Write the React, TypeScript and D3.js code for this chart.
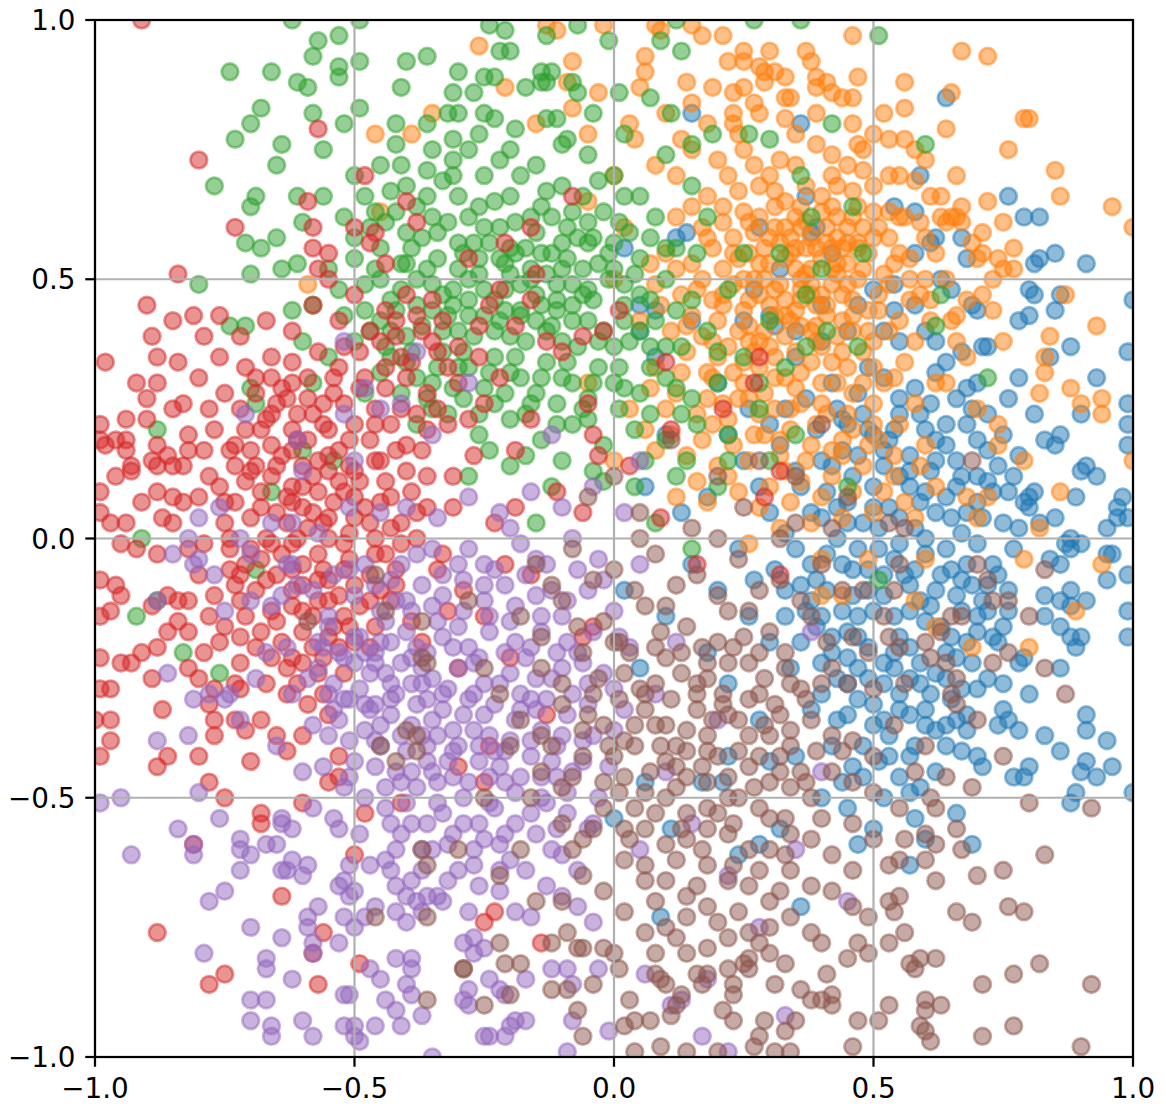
import React from "react";
import { scaleLinear } from "d3";

// points, [x, y]
const blue: [number, number][] = [
  [0.64,0.85],[0.36,0.80],[0.59,0.70],[0.76,0.66],[0.79,0.62],[0.82,0.62],[0.54,0.64],[0.58,0.63],[0.61,0.57],[0.62,0.58],
  [0.67,0.58],[0.68,0.54],[0.81,0.53],[0.82,0.54],[0.85,0.55],[0.91,0.53],[0.80,0.48],[0.81,0.47],[0.86,0.47],[0.85,0.44],
  [1.00,0.46],[0.69,0.45],[0.70,0.44],[0.78,0.42],[0.80,0.43],[0.88,0.37],[0.99,0.36],[0.84,0.35],[0.71,0.37],[0.72,0.37],
  [0.67,0.36],[0.62,0.38],[0.54,0.49],[0.54,0.44],[0.63,0.50],[0.37,0.66],[0.38,0.59],[0.39,0.60],
  [0.78,0.31],[0.93,0.31],[0.99,0.26],[0.90,0.24],[0.81,0.24],[0.83,0.19],[0.85,0.18],[0.86,0.20],[0.99,0.22],[0.99,0.18],
  [0.91,0.14],[0.90,0.13],[0.93,0.12],[0.89,0.08],[0.98,0.08],[0.97,0.06],[0.97,0.04],[0.99,0.04],[0.95,0.02],[0.76,0.09],
  [0.80,0.08],[0.81,0.09],[0.79,0.07],[0.80,0.06],[0.82,0.03],[0.85,0.04],[0.78,0.02],[0.88,0.00],[0.87,-0.01],[0.84,-0.04],
  [0.86,-0.05],[0.88,-0.02],[0.90,-0.01],[0.95,-0.03],[0.96,-0.03],[0.95,-0.08],[0.99,-0.07],[0.99,-0.14],[0.99,-0.19],[0.83,-0.11],
  [0.86,-0.12],[0.88,-0.10],[0.91,-0.12],[0.88,-0.13],[0.83,-0.15],[0.86,-0.17],[0.88,-0.19],[0.90,-0.19],[0.89,-0.21],[0.86,-0.25],
  [0.75,-0.17],[0.73,-0.19],[0.74,-0.20],[0.78,-0.24],[0.79,-0.23],[0.72,-0.27],[0.75,-0.28],[0.80,-0.30],[0.70,-0.29],[0.75,-0.33],
  [0.91,-0.34],[0.91,-0.37],[0.95,-0.39],[0.83,-0.38],[0.86,-0.41],[0.91,-0.43],[0.90,-0.45],[0.93,-0.46],[0.96,-0.44],[0.89,-0.49],
  [0.88,-0.51],[1.00,-0.49],[0.77,-0.46],[0.79,-0.46],[0.80,-0.44],[0.74,-0.36],[0.76,-0.35],[0.78,-0.37],[0.64,-0.36],[0.68,-0.34],
  [0.71,-0.44],[0.70,-0.42],[0.67,-0.41],[0.66,-0.53],[0.69,-0.59],[0.58,-0.54],[0.57,-0.49],[0.60,-0.58],[0.57,-0.63],[0.47,-0.59],
  [0.36,-0.71],
  [0.42,0.30],[0.47,0.28],[0.52,0.31],[0.58,0.29],[0.62,0.32],[0.66,0.27],[0.70,0.30],[0.45,0.22],[0.50,0.20],[0.55,0.24],
  [0.60,0.21],[0.64,0.18],[0.68,0.22],[0.72,0.17],[0.40,0.15],[0.46,0.12],[0.52,0.14],[0.57,0.10],[0.61,0.13],[0.66,0.10],
  [0.70,0.12],[0.74,0.14],[0.38,0.05],[0.43,0.06],[0.48,0.03],[0.53,0.06],[0.58,0.02],[0.62,0.05],[0.67,0.01],[0.71,0.04],
  [0.35,-0.02],[0.41,-0.03],[0.46,-0.06],[0.51,-0.02],[0.56,-0.07],[0.60,-0.03],[0.65,-0.06],[0.69,-0.09],[0.73,-0.05],[0.33,-0.10],
  [0.38,-0.12],[0.44,-0.14],[0.49,-0.10],[0.54,-0.15],[0.59,-0.12],[0.63,-0.17],[0.67,-0.14],[0.71,-0.12],[0.36,-0.20],[0.42,-0.22],
  [0.47,-0.19],[0.52,-0.24],[0.57,-0.21],[0.62,-0.26],[0.66,-0.23],[0.40,-0.30],[0.45,-0.28],[0.50,-0.32],[0.55,-0.30],[0.60,-0.33],
  [0.65,-0.31],[0.48,-0.40],[0.53,-0.38],[0.57,-0.42],[0.62,-0.45],[0.44,-0.47],[0.52,-0.50],[0.30,0.05],[0.27,-0.08],[0.25,0.15],
  [0.30,0.22],[0.35,0.35],[0.45,0.40],[0.55,0.38],[0.50,0.48],[0.58,0.55],[0.30,-0.20],[0.22,-0.28],[0.28,-0.35],[0.35,-0.42],
  [0.15,-0.05],[0.18,0.08],[0.10,-0.15],[0.05,-0.25],[0.02,-0.10],[0.20,0.30],[0.15,0.42],[0.08,0.35],[0.05,0.45],[0.12,0.58],
  [0.25,0.42],[0.75,0.20],[0.77,-0.02],[0.76,-0.10],[0.68,-0.37],[0.40,0.45],[0.32,0.52],[0.28,0.60],[0.42,0.55],
  [0.15,0.82],[0.02,0.56],[0.14,0.59],[0.27,0.48],[0.30,0.43],[0.31,0.41],[0.05,0.40],[0.08,0.44],
  [0.00,-0.54],[0.06,-0.47],[0.17,-0.47],[0.21,-0.47],[0.22,-0.42],[0.30,-0.43],[0.28,-0.59],[0.24,-0.61],[0.32,-0.56],[0.11,-0.56],[0.09,-0.73],
  [0.37,0.27],[0.43,0.25],[0.49,0.33],[0.55,0.27],[0.61,0.26],[0.64,0.34],[0.68,0.29],[0.72,0.24],[0.76,0.27],[0.39,0.21],
  [0.44,0.17],[0.48,0.24],[0.53,0.19],[0.57,0.16],[0.62,0.19],[0.66,0.15],[0.70,0.19],[0.77,0.12],[0.36,0.10],[0.41,0.09],
  [0.45,0.07],[0.50,0.10],[0.55,0.12],[0.59,0.07],[0.64,0.08],[0.68,0.05],[0.73,0.09],[0.75,0.03],[0.33,0.01],[0.38,-0.05],
  [0.43,0.00],[0.47,-0.02],[0.51,0.02],[0.55,-0.01],[0.60,0.00],[0.64,-0.02],[0.70,-0.01],[0.74,-0.07],[0.31,-0.06],[0.36,-0.09],
  [0.41,-0.10],[0.46,-0.11],[0.52,-0.07],[0.57,-0.09],[0.62,-0.10],[0.67,-0.08],[0.72,-0.14],[0.33,-0.15],[0.39,-0.17],[0.45,-0.18],
  [0.50,-0.14],[0.55,-0.19],[0.60,-0.16],[0.65,-0.19],[0.70,-0.18],[0.34,-0.25],[0.40,-0.24],[0.45,-0.23],[0.49,-0.27],[0.54,-0.25],
  [0.59,-0.28],[0.64,-0.27],[0.69,-0.24],[0.38,-0.33],[0.43,-0.35],[0.47,-0.31],[0.52,-0.35],[0.57,-0.34],[0.62,-0.37],[0.66,-0.35],
  [0.46,-0.44],[0.51,-0.43],[0.55,-0.46],[0.59,-0.48],[0.42,-0.40],[0.50,-0.56],[0.45,-0.52],[0.40,-0.50],[0.26,-0.15],[0.24,-0.02],
  [0.28,0.10],[0.32,0.18],[0.26,0.25],[0.22,0.20],[0.20,-0.10],[0.18,-0.22],[0.13,0.05],[0.10,0.20],[0.06,0.10],[0.35,0.40],
  [0.40,0.38],[0.47,0.45],[0.52,0.40],[0.58,0.45],[0.60,0.40],[0.65,0.48],
  [0.44,0.23],[0.49,0.21],[0.54,0.21],[0.59,0.24],[0.64,0.22],[0.69,0.25],[0.42,0.14],[0.47,0.16],[0.52,0.17],[0.57,0.13],
  [0.62,0.15],[0.67,0.12],[0.72,0.11],[0.40,0.04],[0.45,0.03],[0.50,0.06],[0.55,0.04],[0.60,0.09],[0.65,0.04],[0.70,0.07],
  [0.39,-0.08],[0.44,-0.05],[0.49,-0.06],[0.54,-0.04],[0.58,-0.06],[0.63,-0.07],[0.68,-0.05],[0.72,-0.09],[0.40,-0.15],[0.47,-0.15],
  [0.52,-0.11],[0.57,-0.14],[0.61,-0.13],[0.66,-0.11],[0.70,-0.15],[0.42,-0.19],[0.49,-0.21],[0.54,-0.22],[0.59,-0.24],[0.64,-0.22],
  [0.68,-0.20],[0.43,-0.27],[0.47,-0.25],[0.52,-0.28],[0.57,-0.27],[0.61,-0.30],[0.67,-0.29],[0.45,-0.34],[0.50,-0.36],[0.55,-0.33],
  [0.60,-0.36],[0.64,-0.40],[0.53,-0.42],[0.48,-0.46],[0.58,-0.40],[0.37,-0.14],[0.35,0.13],[0.33,0.25],[0.76,-0.14],[0.78,0.16],
];

const orange: [number, number][] = [
  [-0.46,0.78],[-0.39,0.78],[-0.35,0.82],[-0.45,0.63],[-0.59,0.49],
  [-0.26,0.95],[-0.13,0.99],[-0.11,0.98],[-0.08,0.92],[-0.21,0.87],[-0.09,0.88],[-0.08,0.83],[-0.02,0.99],[0.06,0.93],[0.06,0.90],
  [0.05,0.87],[0.08,0.99],[0.09,0.98],[0.15,0.99],[0.17,0.97],[0.21,0.97],[0.14,0.88],[0.19,0.87],[0.15,0.84],[0.22,0.92],
  [0.25,0.94],[0.25,0.92],[0.30,0.94],[0.28,0.91],[0.29,0.90],[0.31,0.90],[0.23,0.86],[0.25,0.87],[0.29,0.88],[0.33,0.89],
  [0.27,0.84],[0.23,0.82],[0.28,0.82],[0.33,0.85],[0.33,0.81],[0.03,0.80],[0.04,0.77],[0.13,0.77],[0.23,0.80],[0.24,0.78],
  [0.46,0.97],[0.67,0.94],[0.72,0.93],[0.56,0.88],[0.47,0.89],[0.65,0.86],[0.52,0.82],[0.56,0.83],[0.64,0.79],[0.79,0.81],
  [0.80,0.81],[0.76,0.75],[0.85,0.71],[0.86,0.66],[0.96,0.64],[1.00,0.60],[0.66,0.70],[0.61,0.66],[0.72,0.65],[0.75,0.61],
  [0.71,0.59],[0.77,0.56],[0.74,0.54],[0.77,0.52],[0.75,0.52],[0.73,0.50],[0.71,0.55],[0.70,0.54],[0.69,0.57],[0.67,0.61],
  [0.66,0.62],[0.64,0.61],[0.63,0.62],[0.87,0.47],[0.93,0.41],[0.84,0.39],[0.83,0.35],[0.71,0.47],[0.73,0.44],[0.75,0.38],
  [0.66,0.43],[0.65,0.42],[0.61,0.46],[0.61,0.42],[0.59,0.47],[0.57,0.46],[0.55,0.55],[0.57,0.54],[0.53,0.77],[0.56,0.77],
  [0.47,0.76],[0.48,0.75],[0.60,0.73],[0.55,0.70],[0.58,0.69],[0.59,0.61],[0.53,0.63],[0.55,0.62],[0.56,0.62],[0.65,0.62],
  [0.67,0.64],[0.42,0.74],[0.45,0.72],[0.48,0.71],[0.38,0.92],[0.37,0.94],[0.39,0.89],[0.39,0.87],[0.41,0.88],[0.42,0.86],
  [0.44,0.85],[0.46,0.85],[0.39,0.82],[0.46,0.80],[0.34,0.85],[0.39,0.76],[0.42,0.70],[0.43,0.68],
  [0.82,0.28],[0.88,0.29],[0.90,0.26],[0.94,0.27],[0.94,0.24],[0.83,0.32],[0.79,0.15],[0.86,0.09],[1.00,0.15],[0.82,0.02],
  [0.79,-0.04],[0.94,-0.05],[0.89,-0.14],[0.80,-0.21],[0.69,-0.21],[0.74,0.22],[0.74,0.18],[0.70,0.25],[0.68,0.08],[0.72,0.08],
  [0.70,0.04],[0.58,-0.12],[0.60,-0.04],[0.62,-0.17],[0.49,-0.04],[0.44,-0.11],[0.40,-0.11],
  [0.30,0.70],[0.35,0.72],[0.40,0.66],[0.33,0.65],[0.28,0.68],[0.22,0.70],[0.18,0.66],[0.25,0.63],[0.31,0.60],[0.37,0.61],
  [0.43,0.62],[0.47,0.64],[0.50,0.58],[0.45,0.57],[0.39,0.56],[0.34,0.55],[0.29,0.56],[0.23,0.58],[0.17,0.60],[0.12,0.62],
  [0.10,0.55],[0.15,0.53],[0.21,0.52],[0.27,0.50],[0.32,0.49],[0.37,0.51],[0.42,0.52],[0.47,0.50],[0.52,0.51],[0.40,0.47],
  [0.35,0.44],[0.30,0.45],[0.25,0.44],[0.19,0.46],[0.13,0.47],[0.08,0.49],[0.05,0.42],[0.11,0.40],[0.17,0.39],[0.22,0.37],
  [0.28,0.38],[0.33,0.39],[0.38,0.40],[0.44,0.42],[0.49,0.44],[0.53,0.40],[0.48,0.36],[0.42,0.34],[0.36,0.32],[0.31,0.31],
  [0.25,0.30],[0.19,0.31],[0.13,0.32],[0.08,0.33],[0.10,0.25],[0.16,0.24],[0.22,0.23],[0.28,0.24],[0.34,0.25],[0.40,0.26],
  [0.46,0.28],[0.52,0.30],[0.56,0.34],[0.58,0.26],[0.50,0.22],[0.44,0.19],[0.38,0.18],[0.32,0.16],[0.26,0.15],[0.20,0.14],
  [0.14,0.16],[0.08,0.17],[0.12,0.08],[0.18,0.07],[0.24,0.09],[0.30,0.10],[0.36,0.11],[0.42,0.12],[0.48,0.14],[0.54,0.16],
  [0.60,0.18],[0.62,0.10],[0.56,0.07],[0.50,0.05],[0.44,0.04],[0.38,0.03],[0.32,0.02],[0.26,-0.01],[0.40,-0.04],[0.34,0.58],
  [0.44,0.47],[0.26,0.55],[0.38,0.52],[0.20,0.42],[0.31,0.35],[0.45,0.60],[0.36,0.46],[0.42,0.56],[0.28,0.62],[0.02,0.60],
  [0.00,0.70],[-0.05,0.78],[0.08,0.72],[0.15,0.75],[0.12,0.70],[0.25,0.75],[0.50,0.68],[0.53,0.70],[0.62,0.55],[0.64,0.50],
  [0.68,0.46],[0.58,0.38],[0.64,0.30],[0.68,0.35],[0.00,0.50],[0.03,0.25],[0.00,0.15],[-0.05,0.30],
  [0.32,0.73],[0.37,0.68],[0.42,0.64],[0.27,0.72],[0.20,0.73],[0.24,0.67],[0.31,0.64],[0.36,0.64],[0.46,0.67],[0.50,0.63],
  [0.53,0.58],[0.48,0.60],[0.43,0.58],[0.38,0.58],[0.33,0.60],[0.27,0.59],[0.21,0.61],[0.15,0.64],[0.19,0.56],[0.24,0.54],
  [0.30,0.53],[0.35,0.52],[0.40,0.54],[0.45,0.53],[0.49,0.55],[0.54,0.53],[0.51,0.47],[0.46,0.46],[0.42,0.49],[0.38,0.47],
  [0.33,0.46],[0.28,0.47],[0.23,0.49],[0.17,0.50],[0.12,0.52],[0.07,0.53],[0.09,0.45],[0.15,0.43],[0.21,0.45],[0.26,0.41],
  [0.31,0.43],[0.36,0.41],[0.41,0.43],[0.46,0.40],[0.50,0.38],[0.55,0.42],[0.57,0.50],[0.60,0.58],[0.14,0.36],[0.20,0.35],
  [0.25,0.34],[0.30,0.37],[0.35,0.36],[0.40,0.37],[0.45,0.33],[0.50,0.33],[0.54,0.31],[0.07,0.29],[0.12,0.28],[0.18,0.27],
  [0.24,0.27],[0.29,0.28],[0.35,0.29],[0.40,0.30],[0.45,0.24],[0.50,0.26],[0.55,0.22],[0.06,0.21],[0.11,0.20],[0.17,0.19],
  [0.23,0.18],[0.29,0.20],[0.34,0.21],[0.39,0.22],[0.44,0.16],[0.49,0.18],[0.54,0.12],[0.59,0.14],[0.16,0.11],[0.22,0.12],
  [0.28,0.06],[0.34,0.07],[0.40,0.08],[0.46,0.09],[0.52,0.09],[0.58,0.04],[0.37,0.56],[0.41,0.60],[0.44,0.56],[0.36,0.50],
  [0.32,0.57],[0.29,0.50],[0.47,0.57],[0.39,0.45],[0.43,0.39],[0.26,0.38],[0.19,0.22],[0.33,0.13],[0.62,0.30],[0.66,0.38],
  [0.60,0.50],[0.63,0.66],[0.58,0.75],[0.50,0.78],[0.35,0.78],[0.18,0.80],[0.10,0.82],[-0.03,0.86],[-0.15,0.80],[-0.05,0.65],
  [0.21,0.64],[0.26,0.61],[0.31,0.67],[0.36,0.60],[0.41,0.57],[0.46,0.62],[0.51,0.60],[0.18,0.58],[0.23,0.55],[0.28,0.53],
  [0.33,0.54],[0.38,0.49],[0.43,0.51],[0.48,0.52],[0.53,0.49],[0.16,0.48],[0.21,0.47],[0.26,0.46],[0.31,0.48],[0.36,0.48],
  [0.41,0.45],[0.46,0.43],[0.51,0.44],[0.14,0.41],[0.19,0.38],[0.24,0.40],[0.29,0.40],[0.34,0.42],[0.39,0.38],[0.44,0.36],
  [0.49,0.40],[0.18,0.32],[0.23,0.32],[0.28,0.33],[0.33,0.31],[0.38,0.34],[0.43,0.30],[0.48,0.30],[0.21,0.26],[0.26,0.27],
  [0.31,0.25],[0.36,0.26],[0.41,0.24],[0.46,0.21],[0.51,0.19],[0.27,0.20],[0.32,0.19],[0.37,0.15],[0.42,0.17],[0.35,0.62],
  [0.40,0.63],[0.30,0.58],[0.25,0.50],[0.45,0.49],[0.35,0.56],[0.43,0.53],[0.33,0.43],[0.39,0.41],[0.27,0.36],[0.47,0.56],
];

const green: [number, number][] = [
  [-0.74,0.90],[-0.66,0.90],[-0.68,0.83],[-0.70,0.80],[-0.73,0.77],[-0.64,0.76],[-0.65,0.72],[-0.77,0.68],[-0.69,0.66],[-0.70,0.64],
  [-0.61,0.66],[-0.60,0.61],[-0.71,0.57],[-0.68,0.56],[-0.65,0.58],[-0.61,0.53],[-0.64,0.52],[-0.70,0.51],[-0.80,0.49],[-0.74,0.41],
  [-0.71,0.41],[-0.62,1.00],[-0.57,0.96],[-0.53,0.97],[-0.58,0.93],[-0.53,0.91],[-0.53,0.89],[-0.61,0.88],[-0.59,0.87],[-0.58,0.82],
  [-0.52,0.80],[-0.56,0.75],[-0.49,0.92],[-0.49,0.83],[-0.40,0.92],[-0.41,0.87],[-0.36,0.93],[-0.42,0.80],[-0.36,0.71],[-0.49,1.00],
  [-0.24,0.99],[-0.21,0.98],[-0.13,0.97],[-0.07,0.99],[-0.01,0.96],[-0.22,0.94],[-0.20,0.94],[-0.30,0.90],[-0.25,0.89],[-0.23,0.89],
  [-0.17,0.87],[-0.14,0.90],[-0.12,0.90],[-0.14,0.88],[-0.13,0.88],[-0.08,0.88],[-0.07,0.86],[-0.31,0.86],[-0.27,0.86],[-0.32,0.82],
  [-0.30,0.82],[-0.25,0.82],[-0.23,0.81],[-0.19,0.79],[-0.13,0.81],[-0.11,0.81],[-0.09,0.77],[-0.31,0.77],[-0.28,0.75],[-0.22,0.73],
  [-0.31,0.73],[-0.31,0.70],[0.01,0.86],[0.07,0.85],[0.11,0.82],[0.13,0.94],[0.09,0.96],[0.12,1.00],[0.27,1.00],[0.19,0.78],
  [0.26,0.78],[0.30,0.77],[0.15,0.76],
  [0.51,0.97],[0.42,0.80],[0.60,0.76],[0.36,0.70],[0.46,0.64],[0.40,0.52],[0.63,0.47],[0.62,0.41],[0.41,0.40],[0.37,0.37],
  [0.47,0.37],[0.36,1.00],[0.72,0.31],[0.51,-0.08],
  [-0.88,0.21],[-0.70,0.29],[-0.69,0.26],[-0.91,0.00],[-0.88,-0.12],[-0.92,-0.15],[-0.83,-0.22],[-0.76,-0.26],[-0.66,0.09],[-0.69,-0.06],
  [-0.60,0.17],[-0.54,0.15],
  [-0.50,0.70],[-0.45,0.72],[-0.40,0.68],[-0.35,0.75],[-0.30,0.66],[-0.25,0.70],[-0.20,0.66],[-0.15,0.72],[-0.10,0.68],[-0.05,0.74],
  [0.00,0.70],[0.05,0.66],[-0.52,0.62],[-0.47,0.60],[-0.42,0.63],[-0.37,0.58],[-0.32,0.61],[-0.27,0.57],[-0.22,0.60],[-0.17,0.56],
  [-0.12,0.62],[-0.07,0.58],[-0.02,0.63],[0.03,0.59],[0.08,0.62],[0.12,0.56],[-0.55,0.52],[-0.50,0.54],[-0.45,0.50],[-0.40,0.53],
  [-0.35,0.49],[-0.30,0.52],[-0.25,0.48],[-0.20,0.51],[-0.15,0.47],[-0.10,0.52],[-0.05,0.48],[0.00,0.52],[0.05,0.47],[0.10,0.50],
  [0.15,0.46],[-0.52,0.43],[-0.47,0.40],[-0.42,0.44],[-0.37,0.41],[-0.32,0.43],[-0.27,0.39],[-0.22,0.42],[-0.17,0.38],[-0.12,0.41],
  [-0.07,0.37],[-0.02,0.40],[0.03,0.38],[0.08,0.42],[0.13,0.37],[0.18,0.40],[-0.45,0.32],[-0.40,0.34],[-0.35,0.30],[-0.30,0.33],
  [-0.25,0.29],[-0.20,0.32],[-0.15,0.28],[-0.10,0.31],[-0.05,0.27],[0.00,0.30],[0.05,0.28],[0.10,0.31],[0.15,0.27],[0.20,0.30],
  [-0.38,0.22],[-0.32,0.24],[-0.26,0.20],[-0.20,0.23],[-0.14,0.19],[-0.08,0.22],[-0.02,0.18],[0.04,0.21],[0.10,0.19],[0.16,0.22],
  [0.22,0.20],[0.28,0.25],[-0.28,0.12],[-0.20,0.14],[-0.12,0.10],[-0.04,0.13],[0.04,0.10],[0.12,0.12],[0.20,0.10],[0.25,0.35],
  [0.30,0.42],[0.22,0.48],[0.25,0.55],[0.18,0.62],[0.15,0.68],[-0.58,0.45],[-0.60,0.38],[-0.55,0.35],[-0.48,0.28],[-0.18,0.44],
  [-0.12,0.55],[-0.28,0.46],[-0.08,0.45],[-0.22,0.54],[-0.14,0.64],[-0.34,0.54],[-0.05,0.57],[0.02,0.45],[-0.42,0.76],[-0.26,0.78],
  [-0.04,0.82],[0.02,0.78],[0.10,0.74],[0.30,0.15],[0.35,0.20],[0.45,0.10],[-0.15,0.03],[0.08,0.03],[0.15,-0.02],[0.32,0.55],
  [0.38,0.62],[0.48,0.55],
  [-0.48,0.66],[-0.43,0.67],[-0.38,0.64],[-0.33,0.69],[-0.28,0.62],[-0.23,0.65],[-0.18,0.70],[-0.13,0.67],[-0.08,0.63],[-0.03,0.69],
  [0.02,0.66],[0.07,0.58],[-0.50,0.58],[-0.45,0.56],[-0.40,0.59],[-0.35,0.62],[-0.30,0.57],[-0.25,0.60],[-0.20,0.56],[-0.15,0.59],
  [-0.10,0.57],[-0.05,0.61],[0.00,0.57],[0.05,0.54],[0.10,0.56],[-0.53,0.48],[-0.48,0.49],[-0.43,0.46],[-0.38,0.50],[-0.33,0.47],
  [-0.28,0.50],[-0.23,0.46],[-0.18,0.49],[-0.13,0.51],[-0.08,0.49],[-0.03,0.53],[0.02,0.49],[0.07,0.46],[0.12,0.44],[-0.50,0.38],
  [-0.45,0.42],[-0.40,0.39],[-0.35,0.44],[-0.30,0.40],[-0.25,0.43],[-0.20,0.39],[-0.15,0.42],[-0.10,0.38],[-0.05,0.42],[0.00,0.37],
  [0.05,0.40],[0.10,0.37],[-0.43,0.35],[-0.38,0.31],[-0.33,0.36],[-0.28,0.33],[-0.23,0.35],[-0.18,0.31],[-0.13,0.34],[-0.08,0.30],
  [-0.03,0.33],[0.02,0.29],[0.07,0.33],[0.12,0.29],[-0.35,0.25],[-0.29,0.27],[-0.23,0.26],[-0.17,0.24],[-0.11,0.26],[-0.05,0.23],
  [0.01,0.25],[0.07,0.24],[0.13,0.24],[-0.24,0.17],[-0.17,0.16],[-0.10,0.15],[-0.02,0.11],[0.06,0.15],[0.14,0.15],[-0.19,0.55],
  [-0.11,0.46],[-0.16,0.52],[-0.06,0.52],[-0.21,0.44],[-0.26,0.54],[-0.09,0.60],[-0.14,0.45],[-0.04,0.46],[-0.46,0.63],[-0.41,0.72],
  [-0.36,0.80],[-0.20,0.75],[-0.10,0.76],[-0.56,0.66],[-0.62,0.44],[-0.58,0.30],[0.16,0.55],[0.20,0.36],[0.28,0.30],[0.22,0.15],
  [0.33,0.33],[0.37,0.47],
  [-0.44,0.61],[-0.39,0.56],[-0.34,0.59],[-0.29,0.55],[-0.24,0.57],[-0.19,0.61],[-0.14,0.55],[-0.09,0.54],[-0.04,0.58],[0.01,0.61],
  [-0.46,0.52],[-0.41,0.48],[-0.36,0.52],[-0.31,0.48],[-0.26,0.51],[-0.21,0.48],[-0.16,0.50],[-0.11,0.49],[-0.06,0.47],[-0.01,0.50],
  [0.04,0.51],[-0.48,0.44],[-0.43,0.40],[-0.38,0.45],[-0.33,0.40],[-0.28,0.43],[-0.23,0.40],[-0.18,0.43],[-0.13,0.40],[-0.08,0.42],
  [-0.03,0.38],[0.02,0.42],[0.07,0.37],[-0.44,0.37],[-0.39,0.36],[-0.34,0.33],[-0.29,0.36],[-0.24,0.32],[-0.19,0.35],[-0.14,0.31],
  [-0.09,0.34],[-0.04,0.30],[0.01,0.33],[-0.41,0.28],[-0.36,0.27],[-0.31,0.29],[-0.26,0.24],[-0.21,0.28],[-0.16,0.26],[-0.11,0.22],
  [-0.06,0.25],[-0.36,0.66],[-0.26,0.64],[-0.16,0.62],[-0.06,0.66],[-0.41,0.53],[-0.21,0.53],[-0.01,0.55],[-0.31,0.45],[-0.11,0.44],
];

const red: [number, number][] = [
  [-0.91,1.00],[-0.57,0.79],[-0.80,0.73],[-0.73,0.60],[-0.84,0.51],[-0.90,0.45],[-0.85,0.42],[-0.89,0.39],[-0.81,0.43],[-0.76,0.43],
  [-0.98,0.34],[-0.88,0.35],[-0.84,0.34],[-0.79,0.39],[-0.48,0.70],[-0.59,0.65],[-0.58,0.60],[-0.58,0.56],[-0.55,0.55],[-0.57,0.52],
  [-0.40,0.65],[-0.38,0.61],[-0.47,0.57],[-0.46,0.59],
  [-0.92,0.30],[-0.88,0.30],[-0.90,0.27],[-0.85,0.25],[-0.94,0.23],[-0.90,0.23],[-0.99,0.22],[-0.99,0.19],[-0.98,0.18],[-0.96,0.19],
  [-0.94,0.19],[-0.94,0.17],[-0.88,0.18],[-0.86,0.16],[-0.89,0.15],[-0.88,0.14],[-0.82,0.20],[-0.82,0.17],[-0.96,0.12],[-0.93,0.13],
  [-0.93,0.14],[-0.85,0.14],[-0.83,0.14],[-0.88,0.09],[-0.85,0.08],[-0.83,0.07],[-0.91,0.07],[-0.99,0.09],[-0.99,0.05],[-0.97,0.03],
  [-0.94,0.03],[-0.87,0.04],[-0.85,0.03],[-0.95,-0.01],[-0.92,-0.02],[-0.88,-0.03],[-0.99,-0.08],[-0.96,-0.09],[-0.95,-0.11],[-0.97,-0.14],
  [-0.99,-0.15],[-0.89,-0.13],[-0.86,-0.11],[-0.84,-0.12],[-0.82,-0.12],[-0.86,-0.18],[-0.82,-0.18],[-0.84,-0.16],[-0.91,-0.22],[-0.88,-0.21],
  [-0.79,-0.22],[-0.95,-0.24],[-0.93,-0.24],[-0.89,-0.27],[-0.99,-0.23],[-0.99,-0.29],[-0.97,-0.29],[-0.87,-0.33],[-0.80,-0.27],[-0.77,-0.29],
  [-0.73,-0.28],[-0.72,-0.29],[-0.78,-0.32],
  [-0.78,0.25],[-0.77,0.21],[-0.74,0.17],[-0.73,0.14],[-0.78,0.12],[-0.76,0.10],[-0.73,0.07],[-0.75,0.03],[-0.79,-0.01],[-0.82,-0.02],
  [-0.74,-0.02],[-0.70,-0.02],[-0.74,-0.06],[-0.71,-0.05],[-0.73,-0.09],[-0.72,-0.12],[-0.78,-0.15],[-0.75,-0.17],[-0.72,-0.19],[-0.69,-0.21],
  [-0.66,-0.23],[-0.72,-0.24],
  [-0.69,0.28],[-0.66,0.31],[-0.62,0.30],[-0.59,0.31],[-0.65,0.26],[-0.61,0.24],[-0.56,0.26],[-0.52,0.26],[-0.68,0.21],[-0.62,0.21],
  [-0.59,0.19],[-0.55,0.21],[-0.69,0.14],[-0.64,0.16],[-0.60,0.14],[-0.55,0.13],[-0.51,0.14],[-0.68,0.09],[-0.62,0.10],[-0.57,0.09],
  [-0.52,0.09],[-0.65,0.05],[-0.60,0.06],[-0.55,0.04],[-0.50,0.04],[-0.62,-0.01],[-0.57,-0.03],[-0.52,-0.01],[-0.65,-0.07],[-0.60,-0.09],
  [-0.55,-0.08],[-0.50,-0.09],[-0.62,-0.13],[-0.57,-0.12],[-0.52,-0.15],[-0.60,-0.18],[-0.55,-0.19],[-0.62,-0.23],[-0.57,-0.26],[-0.46,0.25],
  [-0.43,0.22],[-0.38,0.24],[-0.46,0.15],[-0.40,0.13],[-0.37,0.17],[-0.45,0.07],[-0.41,0.03],[-0.36,0.06],[-0.46,-0.03],[-0.42,-0.06],
  [-0.43,-0.12],[-0.39,-0.16],
  [-0.08,0.66],[-0.16,0.60],[-0.21,0.57],[-0.28,0.54],[-0.15,0.51],[-0.22,0.48],[-0.24,0.45],[-0.16,0.46],[-0.26,0.41],[-0.19,0.41],
  [0.01,0.44],[-0.06,0.39],[-0.13,0.38],[-0.10,0.36],[-0.02,0.40],[0.28,0.35],[0.10,0.34],[-0.35,0.38],[-0.42,0.42],[-0.30,0.30],
  [-0.25,0.26],[-0.16,0.23],[-0.05,0.26],[-0.04,0.20],[-0.27,0.16],[-0.19,0.17],[-0.11,0.09],[-0.03,0.16],[-0.32,0.22],[-0.31,0.12],
  [-0.23,0.03],[-0.19,0.06],[-0.06,0.05],[0.11,0.21],[0.21,0.25],[0.27,0.30],[0.03,0.14],[0.09,0.04],[0.29,0.08],[0.32,0.13],
  [-0.32,-0.14],[-0.21,-0.05],[-0.16,-0.07],[-0.33,-0.03],[-0.25,-0.15],[-0.20,-0.23],[-0.06,-0.19],[-0.04,-0.17],[0.16,-0.05],[0.32,-0.07],
  [-0.13,-0.34],
  [-0.97,-0.39],[-0.99,-0.42],[-0.86,-0.42],[-0.88,-0.44],[-0.80,-0.42],[-0.78,-0.47],[-0.75,-0.50],[-0.68,-0.53],[-0.68,-0.55],[-0.81,-0.59],
  [-0.60,-0.51],[-0.64,-0.69],[-0.88,-0.76],[-0.56,-0.76],[-0.58,-0.80],[-0.75,-0.84],[-0.78,-0.86],[-0.57,-0.86],[-0.50,-0.61],[-0.49,-0.82],
  [-0.53,-0.42],[-0.53,-0.46],[-0.55,-0.47],[-0.41,-0.51],[-0.48,-0.53],[-0.70,-0.43],[-0.77,-0.38],[-0.77,-0.35],[-0.73,-0.35],[-0.71,-0.37],
  [-0.68,-0.35],[-0.65,-0.38],[-0.63,-0.41],[-0.60,-0.38],[-1.00,-0.35],[-0.97,-0.35],
  [-0.14,-0.78],[-0.23,-0.72],[-0.25,-0.74],[-0.24,-0.40],[-0.30,-0.44],[-0.25,-0.47],
  [-0.71,0.33],[-0.66,0.35],[-0.62,0.34],[-0.57,0.36],[-0.53,0.33],[-0.49,0.36],[-0.45,0.38],[-0.41,0.35],[-0.37,0.40],[-0.33,0.42],
  [-0.30,0.37],[-0.44,0.44],[-0.40,0.47],[-0.35,0.46],[-0.48,0.31],[-0.44,0.29],[-0.40,0.31],[-0.36,0.28],[-0.32,0.33],[-0.72,0.25],
  [-0.67,0.23],[-0.63,0.27],[-0.58,0.24],[-0.54,0.28],[-0.50,0.22],[-0.47,0.19],[-0.42,0.17],[-0.34,0.25],[-0.73,0.18],[-0.70,0.17],
  [-0.66,0.18],[-0.62,0.17],[-0.57,0.15],[-0.53,0.17],[-0.49,0.11],[-0.44,0.11],[-0.39,0.09],[-0.71,0.11],[-0.66,0.12],[-0.62,0.07],
  [-0.58,0.12],[-0.54,0.07],[-0.50,0.08],[-0.47,0.03],[-0.43,0.02],[-0.38,0.00],[-0.70,0.04],[-0.67,0.00],[-0.63,0.03],[-0.59,0.02],
  [-0.55,0.00],[-0.51,-0.04],[-0.47,-0.07],[-0.44,-0.03],[-0.68,-0.04],[-0.64,-0.03],[-0.60,-0.05],[-0.56,-0.06],[-0.53,-0.11],[-0.49,-0.13],
  [-0.45,-0.10],[-0.69,-0.10],[-0.66,-0.14],[-0.62,-0.10],[-0.58,-0.15],[-0.54,-0.17],[-0.50,-0.20],[-0.46,-0.17],[-0.68,-0.18],[-0.64,-0.20],
  [-0.60,-0.24],[-0.56,-0.23],[-0.52,-0.26],[-0.67,-0.28],[-0.63,-0.30],[-0.59,-0.32],[-0.55,-0.34],[-0.83,0.26],[-0.80,0.31],[-0.76,0.35],
  [-0.72,0.39],[-0.67,0.42],[-0.62,0.40],[-0.58,0.45],[-0.53,0.42],[-0.50,0.47],[-0.55,0.50],[-0.50,0.60],[-0.44,0.53],[-0.79,0.17],
  [-0.80,0.08],[-0.80,-0.07],[-0.77,-0.11],[-0.76,-0.20],[-0.82,-0.25],[-0.74,0.00],[-0.28,0.23],[-0.22,0.31],[-0.26,0.35],[-0.36,0.12],
  [-0.31,0.06],[-0.34,-0.06],[-0.29,-0.10],[-0.37,-0.20],[-0.30,-0.25],
  [-0.69,0.31],[-0.64,0.29],[-0.59,0.27],[-0.54,0.31],[-0.49,0.29],[-0.44,0.33],[-0.39,0.34],[-0.34,0.36],[-0.71,0.21],[-0.66,0.24],
  [-0.61,0.19],[-0.56,0.22],[-0.51,0.19],[-0.46,0.22],[-0.41,0.25],[-0.36,0.21],[-0.70,0.13],[-0.65,0.14],[-0.60,0.10],[-0.55,0.16],
  [-0.50,0.13],[-0.45,0.15],[-0.40,0.18],[-0.68,0.06],[-0.63,0.08],[-0.58,0.05],[-0.53,0.11],[-0.48,0.06],[-0.43,0.08],[-0.38,0.05],
  [-0.66,-0.01],[-0.61,0.00],[-0.56,0.03],[-0.51,0.01],[-0.46,0.00],[-0.41,-0.01],[-0.67,-0.08],[-0.62,-0.06],[-0.57,-0.08],[-0.52,-0.06],
  [-0.47,-0.12],[-0.42,-0.09],[-0.65,-0.16],[-0.60,-0.14],[-0.55,-0.12],[-0.51,-0.17],[-0.47,-0.21],[-0.63,-0.25],[-0.58,-0.21],[-0.53,-0.21],
  [-0.61,-0.28],[-0.56,-0.30],[-0.42,0.39],[-0.38,0.43],[-0.47,0.40],[-0.52,0.37],[-0.75,0.28],[-0.75,0.07],[-0.72,-0.07],[-0.71,-0.15],
];

const purple: [number, number][] = [
  [-0.88,-0.39],[-0.95,-0.50],[-0.99,-0.51],[-0.93,-0.61],[-0.84,-0.56],[-0.80,-0.49],[-0.76,-0.54],[-0.81,-0.59],[-0.81,-0.61],[-0.72,-0.64],
  [-0.78,-0.70],[-0.75,-0.68],[-0.79,-0.80],[-0.70,-0.75],[-0.64,-0.77],[-0.67,-0.81],[-0.67,-0.83],[-0.62,-0.85],[-0.70,-0.89],[-0.67,-0.89],
  [-0.70,-0.93],[-0.66,-0.94],[-0.66,-0.96],[-0.60,-0.93],[-0.58,-0.96],[-0.59,-0.73],[-0.59,-0.75],[-0.57,-0.71],[-0.58,-0.78],[-0.58,-0.80],
  [-0.53,-0.78],[-0.52,-0.88],[-0.51,-0.88],[-0.52,-0.94],[-0.50,-0.94],[-0.50,-0.96],[-0.49,-0.97],[-0.46,-0.94],[-0.44,-0.89],[-0.41,-0.94],
  [-0.42,-0.91],[-0.37,-0.92],[-0.47,-0.83],[-0.45,-0.85],[-0.42,-0.81],[-0.39,-0.81],[-0.39,-0.83],[-0.40,-0.86],[-0.39,-0.88],[-0.35,-1.00],
  [-0.64,-0.64],[-0.63,-0.64],[-0.62,-0.62],[-0.59,-0.63],[-0.60,-0.65],[-0.72,-0.60],[-0.70,-0.61],[-0.72,-0.58],[-0.67,-0.59],[-0.65,-0.59],
  [-0.64,-0.55],[-0.64,-0.54],[-0.62,-0.56],[-0.51,-0.63],[-0.52,-0.66],[-0.53,-0.67],[-0.51,-0.69],[-0.50,-0.68],[-0.50,-0.75],[-0.52,-0.73],
  [-0.48,-0.73],[-0.46,-0.71],[-0.44,-0.62],[-0.43,-0.64],[-0.42,-0.67],[-0.40,-0.69],[-0.39,-0.66],[-0.38,-0.70],[-0.36,-0.69],[-0.42,-0.72],
  [-0.40,-0.74],[-0.37,-0.72],[-0.34,-0.69],
  [-0.19,-0.93],[-0.17,-0.93],[-0.20,-0.94],[-0.21,-0.96],[-0.24,-0.96],[-0.25,-0.96],[-0.08,-0.93],[-0.01,-0.95],[-0.09,-0.99],[0.17,-0.96],
  [0.22,-0.99],[0.33,-0.92],[0.11,-0.90],[0.13,-0.89],[0.06,-0.84],[0.18,-0.85],[-0.28,-0.87],[-0.29,-0.89],[-0.28,-0.90],[-0.22,-0.87],
  [-0.21,-0.88],[-0.24,-0.85],[-0.17,-0.85],[-0.12,-0.83],[-0.09,-0.83],[-0.08,-0.86],[-0.03,-0.83],[-0.27,-0.80],[-0.25,-0.79],[-0.29,-0.78],
  [-0.27,-0.77],
  [-0.71,0.24],[-0.61,0.19],[-0.60,0.13],[-0.76,0.06],[-0.80,0.04],[-0.82,0.00],[-0.81,-0.05],[-0.80,-0.04],[-0.77,-0.07],[-0.75,-0.14],
  [-0.86,-0.26],[-0.81,-0.31],[-0.75,-0.31],[-0.74,-0.30],[-0.69,-0.27],[-0.63,-0.21],[-0.66,-0.13],[-0.64,-0.11],[-0.63,-0.05],[-0.61,-0.09],
  [-0.70,-0.03],[-0.66,0.03],[-0.62,0.03],[-0.57,0.01],[-0.52,0.24],[-0.48,0.29],[-0.41,0.26],[-0.51,0.06],[-0.45,0.05],[-0.51,-0.06],
  [-0.41,-0.05],[-0.40,-0.12],[-0.55,-0.17],[-0.56,-0.21],[-0.52,-0.23],[-0.49,-0.19],[-0.45,-0.20],[-0.46,-0.24],[-0.43,-0.28],[-0.39,-0.23],
  [-0.37,-0.28],[-0.55,-0.30],[-0.51,-0.31],[-0.46,-0.32],
  [-0.65,-0.40],[-0.60,-0.45],[-0.55,-0.38],[-0.50,-0.43],[-0.45,-0.36],[-0.40,-0.41],[-0.35,-0.35],[-0.30,-0.40],[-0.25,-0.34],[-0.20,-0.39],
  [-0.15,-0.33],[-0.10,-0.38],[-0.05,-0.32],[0.00,-0.37],[-0.62,-0.30],[-0.57,-0.25],[-0.52,-0.31],[-0.47,-0.26],[-0.42,-0.30],[-0.37,-0.25],
  [-0.32,-0.29],[-0.27,-0.24],[-0.22,-0.28],[-0.17,-0.23],[-0.12,-0.27],[-0.07,-0.22],[-0.02,-0.26],[0.03,-0.21],[-0.55,-0.15],[-0.50,-0.19],
  [-0.45,-0.14],[-0.40,-0.18],[-0.35,-0.13],[-0.30,-0.17],[-0.25,-0.12],[-0.20,-0.16],[-0.15,-0.11],[-0.10,-0.15],[-0.05,-0.10],[0.00,-0.14],
  [-0.48,-0.05],[-0.43,-0.08],[-0.38,-0.03],[-0.33,-0.07],[-0.28,-0.02],[-0.23,-0.06],[-0.18,-0.01],[-0.13,-0.05],[-0.08,0.00],[-0.03,-0.04],
  [-0.40,0.06],[-0.34,0.04],[-0.28,0.08],[-0.22,0.05],[-0.16,0.09],[-0.10,0.06],[-0.04,0.10],[-0.58,-0.52],[-0.53,-0.56],[-0.48,-0.50],
  [-0.43,-0.55],[-0.38,-0.48],[-0.33,-0.53],[-0.28,-0.47],[-0.23,-0.52],[-0.18,-0.46],[-0.13,-0.51],[-0.08,-0.45],[-0.03,-0.50],[-0.35,-0.60],
  [-0.30,-0.64],[-0.25,-0.58],[-0.20,-0.62],[-0.15,-0.57],[-0.10,-0.61],[-0.05,-0.56],[-0.28,-0.72],[-0.22,-0.68],[-0.16,-0.73],[-0.10,-0.69],
  [-0.04,-0.74],[-0.32,-0.43],[-0.27,-0.37],[-0.37,-0.38],[-0.22,-0.44],[-0.42,-0.45],[-0.33,-0.30],[-0.18,-0.30],[-0.47,-0.33],[-0.12,-0.43],
  [-0.67,-0.22],[-0.70,-0.12],[-0.62,-0.05],[-0.72,0.00],[-0.85,-0.03],[-0.88,-0.12],[-0.78,-0.30],[-0.72,-0.35],[-0.82,-0.38],[-0.50,0.15],
  [-0.45,0.25],[-0.35,0.20],[-0.28,0.30],[-0.52,0.38],[-0.38,0.36],[0.05,-0.05],[0.08,-0.30],[0.10,-0.45],[0.05,-0.60],[0.15,-0.55],
  [0.12,-0.20],[0.20,-0.35],[0.02,0.05],[0.05,0.15],[-0.12,0.20],[0.22,-0.65],[0.28,-0.75],[0.35,-0.60],[0.40,-0.45],[0.45,-0.70],
  [0.38,-0.18],
  [-0.58,-0.10],[-0.54,-0.07],[-0.50,-0.11],[-0.46,-0.09],[-0.42,-0.12],[-0.37,-0.09],[-0.33,-0.11],[-0.29,-0.08],[-0.25,-0.05],[-0.21,-0.09],
  [-0.17,-0.07],[-0.12,-0.10],[-0.07,-0.06],[-0.02,-0.08],[-0.57,-0.20],[-0.53,-0.22],[-0.48,-0.22],[-0.43,-0.20],[-0.38,-0.21],[-0.33,-0.19],
  [-0.28,-0.21],[-0.24,-0.18],[-0.19,-0.20],[-0.14,-0.18],[-0.09,-0.20],[-0.04,-0.18],[0.01,-0.19],[-0.59,-0.27],[-0.54,-0.28],[-0.49,-0.29],
  [-0.44,-0.26],[-0.39,-0.28],[-0.35,-0.27],[-0.30,-0.25],[-0.25,-0.28],[-0.20,-0.26],[-0.15,-0.27],[-0.10,-0.25],[-0.05,-0.28],[0.00,-0.29],
  [-0.58,-0.36],[-0.53,-0.35],[-0.48,-0.37],[-0.43,-0.34],[-0.39,-0.36],[-0.34,-0.38],[-0.29,-0.34],[-0.24,-0.38],[-0.19,-0.35],[-0.14,-0.37],
  [-0.09,-0.34],[-0.04,-0.38],[0.02,-0.33],[-0.56,-0.44],[-0.51,-0.46],[-0.46,-0.44],[-0.41,-0.47],[-0.36,-0.43],[-0.31,-0.46],[-0.26,-0.43],
  [-0.21,-0.47],[-0.16,-0.42],[-0.11,-0.46],[-0.06,-0.43],[-0.01,-0.44],[-0.54,-0.54],[-0.49,-0.57],[-0.44,-0.52],[-0.39,-0.55],[-0.34,-0.51],
  [-0.29,-0.55],[-0.24,-0.51],[-0.19,-0.55],[-0.14,-0.50],[-0.09,-0.53],[-0.04,-0.55],[-0.47,-0.63],[-0.42,-0.60],[-0.37,-0.64],[-0.32,-0.59],
  [-0.27,-0.63],[-0.22,-0.59],[-0.17,-0.64],[-0.12,-0.60],[-0.07,-0.64],[-0.33,-0.70],[-0.26,-0.67],[-0.19,-0.72],[-0.13,-0.67],[-0.07,-0.71],
  [-0.30,-0.05],[-0.20,0.02],[-0.35,-0.45],[-0.27,-0.30],[-0.31,-0.37],[-0.36,-0.31],[-0.23,-0.41],[-0.40,-0.51],[-0.16,-0.31],[-0.45,-0.40],
  [-0.51,-0.39],
  [-0.44,-0.16],[-0.39,-0.14],[-0.34,-0.16],[-0.29,-0.14],[-0.24,-0.15],[-0.19,-0.13],[-0.14,-0.15],[-0.09,-0.12],[-0.46,-0.22],[-0.41,-0.24],
  [-0.36,-0.22],[-0.31,-0.21],[-0.26,-0.23],[-0.21,-0.22],[-0.16,-0.21],[-0.11,-0.22],[-0.06,-0.24],[-0.48,-0.32],[-0.43,-0.31],[-0.38,-0.32],
  [-0.33,-0.33],[-0.28,-0.31],[-0.23,-0.32],[-0.18,-0.33],[-0.13,-0.31],[-0.08,-0.30],[-0.46,-0.39],[-0.41,-0.38],[-0.36,-0.40],[-0.31,-0.41],
  [-0.26,-0.40],[-0.21,-0.41],[-0.16,-0.39],[-0.11,-0.40],[-0.06,-0.39],[-0.44,-0.48],[-0.39,-0.45],[-0.34,-0.47],[-0.29,-0.50],[-0.24,-0.46],
  [-0.19,-0.49],[-0.14,-0.46],[-0.09,-0.49],[-0.41,-0.57],[-0.36,-0.55],[-0.31,-0.57],[-0.26,-0.55],[-0.21,-0.57],[-0.16,-0.53],[-0.11,-0.56],
  [-0.37,-0.60],[-0.27,-0.60],[-0.32,-0.66],[-0.22,-0.64],[-0.52,-0.48],[-0.50,-0.24],[-0.54,-0.33],[-0.35,-0.02],[-0.25,-0.09],[-0.15,-0.04],
];

const brown: [number, number][] = [
  [0.80,-0.51],[0.92,-0.52],[0.69,-0.48],[0.64,-0.46],[0.83,-0.61],[0.75,-0.64],[0.76,-0.71],[0.79,-0.72],[0.66,-0.72],[0.69,-0.74],
  [0.56,-0.76],[0.53,-0.78],[0.62,-0.81],[0.57,-0.82],[0.59,-0.81],[0.58,-0.83],[0.71,-0.86],[0.77,-0.84],[0.82,-0.82],[0.92,-0.86],
  [0.60,-0.89],[0.60,-0.91],[0.63,-0.90],[0.53,-0.90],[0.51,-0.93],[0.47,-0.93],[0.59,-0.94],[0.60,-0.95],[0.61,-0.97],[0.71,-0.96],
  [0.77,-0.94],[0.90,-0.98],[0.46,-0.98],[0.67,-0.60],[0.61,-0.50],[0.62,-0.52],[0.60,-0.57],[0.62,-0.59],[0.60,-0.62],[0.56,-0.58],
  [0.55,-0.62],[0.53,-0.63],[0.53,-0.70],[0.55,-0.69],[0.54,-0.72],[0.46,-0.71],[0.49,-0.73],[0.47,-0.78],[0.49,-0.80],[0.45,-0.81],
  [0.41,-0.84],[0.42,-0.88],[0.40,-0.89],[0.42,-0.90],[0.38,-0.89],[0.36,-0.87],[0.35,-0.93],[0.34,-0.99],
  [0.83,-0.06],[0.80,-0.15],[0.83,-0.25],[0.87,-0.30],[0.76,-0.12],[0.73,-0.12],[0.72,-0.08],[0.70,-0.05],[0.69,0.15],[0.65,-0.15],
  [0.67,-0.15],[0.63,-0.18],[0.76,-0.22],[0.73,-0.24],[0.53,0.03],[0.56,0.02],[0.54,-0.10],[0.53,-0.19],[0.55,-0.21],[0.60,-0.20],
  [0.61,-0.23],[0.64,-0.24],[0.66,-0.27],[0.65,-0.30],[0.66,-0.32],
  [-0.06,-0.96],[-0.07,-0.91],[-0.25,-0.90],[-0.20,-0.88],[-0.12,-0.87],[-0.09,-0.87],[-0.04,-0.86],[-0.29,-0.83],[-0.22,-0.78],[-0.18,-0.82],
  [-0.21,-0.82],[-0.12,-0.78],[-0.09,-0.76],[-0.07,-0.79],[-0.06,-0.79],[-0.02,-0.79],[0.00,-0.80],[0.01,-0.83],[0.03,-0.89],[0.04,-0.93],
  [0.07,-0.93],[0.02,-0.94],[0.04,-0.99],[0.09,-0.98],[0.14,-0.99],[0.20,-0.99],[0.27,-0.98],[0.31,-0.99],[0.08,-0.84],[0.09,-0.85],
  [0.10,-0.86],[0.11,-0.92],[0.12,-0.90],[0.13,-0.88],[0.16,-0.84],[0.17,-0.86],[0.18,-0.84],[0.21,-0.91],[0.23,-0.93],[0.23,-0.88],
  [0.23,-0.86],[0.25,-0.82],[0.29,-0.93],[0.28,-0.96],[0.33,-0.95],[0.33,-0.82],[0.31,-0.86],[0.26,-0.83],
  [-0.45,-0.40],[-0.40,-0.37],[-0.38,-0.38],[-0.38,-0.41],[-0.42,-0.43],[-0.37,-0.60],[-0.36,-0.63],[-0.46,-0.73],[-0.36,-0.73],[-0.36,-0.89],
  [-0.59,-0.16],[-0.37,-0.16],[-0.37,-0.23],[-0.36,-0.24],[-0.44,-0.14],[-0.46,-0.07],[-0.29,-0.83],
  [-0.15,-0.05],[-0.08,-0.02],[0.00,-0.06],[0.08,-0.03],[0.16,-0.07],[0.24,-0.04],[0.32,-0.08],[0.40,-0.05],[-0.18,-0.15],[-0.10,-0.12],
  [-0.02,-0.16],[0.06,-0.13],[0.14,-0.17],[0.22,-0.14],[0.30,-0.18],[0.38,-0.15],[0.46,-0.19],[-0.14,-0.25],[-0.06,-0.22],[0.02,-0.26],
  [0.10,-0.23],[0.18,-0.27],[0.26,-0.24],[0.34,-0.28],[0.42,-0.25],[0.50,-0.29],[-0.18,-0.35],[-0.10,-0.32],[-0.02,-0.36],[0.06,-0.33],
  [0.14,-0.37],[0.22,-0.34],[0.30,-0.38],[0.38,-0.35],[0.46,-0.39],[0.54,-0.36],[-0.14,-0.45],[-0.06,-0.42],[0.02,-0.46],[0.10,-0.43],
  [0.18,-0.47],[0.26,-0.44],[0.34,-0.48],[0.42,-0.45],[0.50,-0.49],[-0.10,-0.55],[-0.02,-0.52],[0.06,-0.56],[0.14,-0.53],[0.22,-0.57],
  [0.30,-0.54],[0.38,-0.58],[0.46,-0.55],[-0.06,-0.65],[0.02,-0.62],[0.10,-0.66],[0.18,-0.63],[0.26,-0.67],[0.34,-0.64],[0.42,-0.68],
  [0.02,-0.72],[0.10,-0.75],[0.18,-0.71],[0.26,-0.76],[0.34,-0.73],[0.14,-0.80],[0.22,-0.83],[0.30,-0.80],[0.12,-0.40],[0.18,-0.38],
  [0.08,-0.36],[0.20,-0.42],[0.24,-0.50],[0.04,-0.40],[0.16,-0.30],[0.28,-0.30],[-0.04,-0.30],[0.10,-0.50],[0.32,-0.42],[0.00,-0.20],
  [0.20,-0.20],[-0.25,-0.50],[-0.30,-0.60],[-0.22,-0.65],[-0.15,-0.70],[-0.25,-0.25],[-0.28,-0.12],[0.05,0.05],[0.15,0.02],[0.25,0.06],
  [0.35,0.03],[0.45,0.08],[0.48,-0.10],[0.55,-0.05],[0.60,-0.40],[0.70,-0.35],[0.75,-0.42],[0.40,-0.78],[0.11,0.19],[0.20,0.12],
  [0.28,0.15],[0.35,0.12],[0.40,0.22],[-0.05,0.08],[0.00,0.12],
  [-0.12,-0.09],[-0.04,-0.08],[0.04,-0.10],[0.12,-0.09],[0.20,-0.11],[0.28,-0.10],[0.36,-0.12],[0.44,-0.10],[-0.14,-0.19],[-0.07,-0.17],
  [0.01,-0.20],[0.09,-0.18],[0.17,-0.21],[0.25,-0.19],[0.33,-0.22],[0.41,-0.20],[0.49,-0.22],[-0.10,-0.28],[-0.03,-0.27],[0.05,-0.29],
  [0.13,-0.26],[0.21,-0.30],[0.29,-0.27],[0.37,-0.31],[0.45,-0.28],[-0.14,-0.38],[-0.06,-0.37],[0.02,-0.39],[0.10,-0.36],[0.18,-0.41],
  [0.26,-0.38],[0.34,-0.40],[0.42,-0.38],[0.50,-0.42],[-0.10,-0.48],[-0.02,-0.47],[0.06,-0.49],[0.14,-0.46],[0.22,-0.50],[0.30,-0.47],
  [0.38,-0.50],[0.46,-0.47],[-0.06,-0.58],[0.02,-0.56],[0.10,-0.59],[0.18,-0.56],[0.26,-0.60],[0.34,-0.57],[0.42,-0.61],[0.50,-0.58],
  [-0.02,-0.68],[0.06,-0.66],[0.14,-0.69],[0.22,-0.66],[0.30,-0.70],[0.38,-0.67],[0.46,-0.64],[0.06,-0.76],[0.14,-0.73],[0.22,-0.77],
  [0.30,-0.75],[0.38,-0.76],[0.18,-0.79],[0.26,-0.81],[0.08,-0.80],[0.16,-0.33],[0.24,-0.35],[0.12,-0.44],[0.28,-0.42],[0.20,-0.53],
  [0.08,-0.28],[0.32,-0.34],[0.14,-0.58],[0.04,-0.52],[0.00,-0.42],[0.22,-0.24],[0.30,-0.60],[0.36,-0.45],[-0.08,-0.60],[-0.12,-0.40],
  [-0.16,-0.50],[-0.20,-0.40],[-0.22,-0.30],[-0.18,-0.60],[-0.10,-0.70],[0.05,0.00],[0.20,0.00],[0.32,0.00],[0.42,0.02],[0.52,-0.15],
  [0.56,-0.28],[0.58,-0.45],[0.55,-0.52],[0.62,-0.66],[0.66,-0.56],[0.70,-0.65],
  [0.03,-0.22],[0.08,-0.21],[0.13,-0.22],[0.18,-0.24],[0.23,-0.21],[0.28,-0.22],[0.33,-0.25],[0.01,-0.31],[0.06,-0.30],[0.11,-0.31],
  [0.16,-0.28],[0.21,-0.32],[0.26,-0.31],[0.31,-0.32],[0.36,-0.29],[-0.01,-0.40],[0.04,-0.36],[0.09,-0.40],[0.14,-0.41],[0.19,-0.35],
  [0.24,-0.41],[0.29,-0.36],[0.34,-0.37],[0.39,-0.41],[0.01,-0.49],[0.07,-0.45],[0.12,-0.48],[0.17,-0.44],[0.22,-0.46],[0.27,-0.48],
  [0.32,-0.45],[0.37,-0.47],[0.03,-0.58],[0.08,-0.53],[0.13,-0.56],[0.18,-0.52],[0.23,-0.55],[0.28,-0.52],[0.33,-0.54],[0.06,-0.63],
  [0.12,-0.62],[0.17,-0.60],[0.23,-0.63],[0.28,-0.64],[0.33,-0.61],[0.08,-0.70],[0.16,-0.67],[0.24,-0.72],[0.32,-0.68],[0.12,-0.77],
  [0.20,-0.74],[0.28,-0.78],[-0.05,-0.34],[-0.08,-0.46],[-0.04,-0.56],[0.40,-0.54],[0.44,-0.41],[0.40,-0.28],[0.10,-0.13],[0.26,-0.14],
];

const series = [
  { name: "s0", color: "#1f77b4", points: blue },
  { name: "s1", color: "#ff7f0e", points: orange },
  { name: "s2", color: "#2ca02c", points: green },
  { name: "s3", color: "#d62728", points: red },
  { name: "s4", color: "#9467bd", points: purple },
  { name: "s5", color: "#8c564b", points: brown },
];

const tickValues = [-1, -0.5, 0, 0.5, 1];
const tickLabels = ["\u22121.0", "\u22120.5", "0.0", "0.5", "1.0"];

export default function App() {
  const width = 1166;
  const height = 1115;
  const left = 95;
  const right = 1133;
  const top = 20;
  const bottom = 1057;
  const px = 2.78; // pixels per point

  const x = scaleLinear().domain([-1, 1]).range([left, right]);
  const y = scaleLinear().domain([-1, 1]).range([bottom, top]);

  const r = 3 * px;
  const tickLen = 3.5 * px;
  const pad = 3.5 * px;
  const fontSize = 10 * px;

  return (
    <div style={{ position: "absolute", left: 0, top: 0 }}>
      <svg width={width} height={height} style={{ display: "block", background: "#fff" }}
        fontFamily="DejaVu Sans, sans-serif">
        <defs>
          <clipPath id="plotArea">
            <rect x={left} y={top} width={right - left} height={bottom - top} />
          </clipPath>
        </defs>

        {/* scatter */}
        <g clipPath="url(#plotArea)">
          {series.map((s) => (
            <g key={s.name} fill={s.color} stroke={s.color} fillOpacity={0.5} strokeOpacity={0.5}
              strokeWidth={1 * px}>
              {s.points.map((p, i) => (
                <circle key={i} cx={x(p[0])} cy={y(p[1])} r={r} />
              ))}
            </g>
          ))}
        </g>

        {/* grid above the points, like matplotlib's default */}
        <g stroke="#b0b0b0" strokeWidth={0.8 * px}>
          {tickValues.map((t) => (
            <line key={"gx" + t} x1={x(t)} x2={x(t)} y1={top} y2={bottom} />
          ))}
          {tickValues.map((t) => (
            <line key={"gy" + t} x1={left} x2={right} y1={y(t)} y2={y(t)} />
          ))}
        </g>

        {/* spines */}
        <rect x={left} y={top} width={right - left} height={bottom - top} fill="none"
          stroke="#000" strokeWidth={0.8 * px} strokeLinejoin="miter" />

        {/* ticks */}
        <g stroke="#000" strokeWidth={0.8 * px}>
          {tickValues.map((t) => (
            <line key={"tx" + t} x1={x(t)} x2={x(t)} y1={bottom} y2={bottom + tickLen} />
          ))}
          {tickValues.map((t) => (
            <line key={"ty" + t} x1={left - tickLen} x2={left} y1={y(t)} y2={y(t)} />
          ))}
        </g>

        <g fontSize={fontSize} fill="#000">
          {tickValues.map((t, i) => (
            <text key={"lx" + t} x={x(t)} y={bottom + tickLen + pad + fontSize * 0.76} textAnchor="middle">
              {tickLabels[i]}
            </text>
          ))}
          {tickValues.map((t, i) => (
            <text key={"ly" + t} x={left - tickLen - pad} y={y(t) + fontSize * 0.36} textAnchor="end">
              {tickLabels[i]}
            </text>
          ))}
        </g>
      </svg>
    </div>
  );
}
